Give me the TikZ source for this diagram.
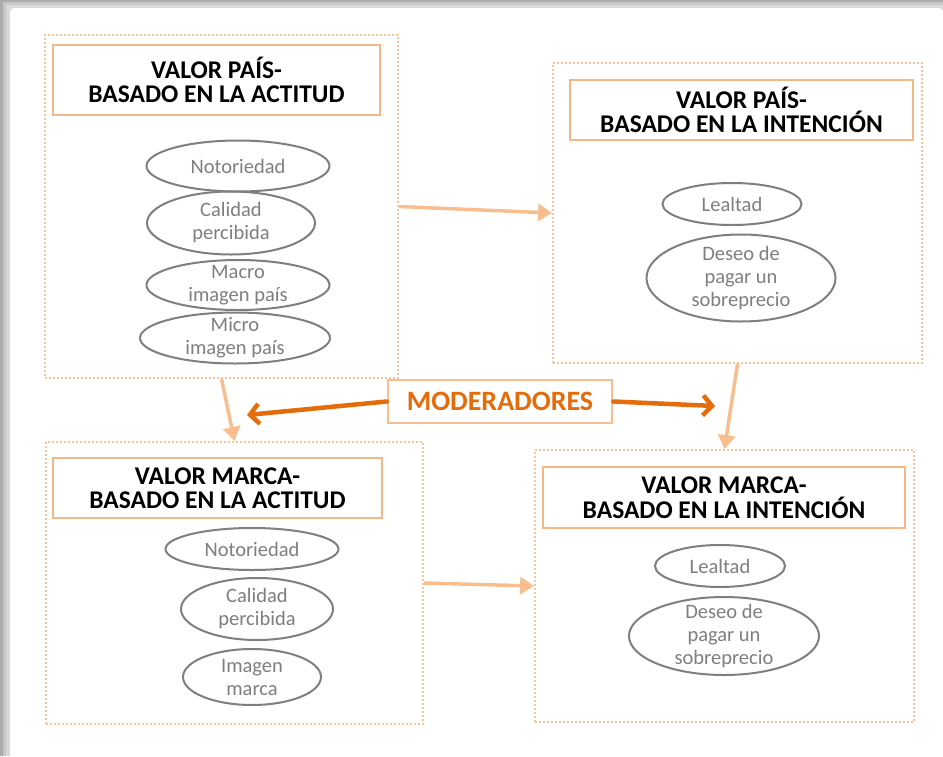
\documentclass[tikz,border=0pt]{standalone}
\usepackage{fontspec}
\setmainfont{Carlito}
\usepackage{tikz}
\usetikzlibrary{shapes.geometric,arrows.meta}
\definecolor{punteado}{HTML}{F7C59C}
\definecolor{borde}{HTML}{F4B887}
\definecolor{naranjaclaro}{HTML}{F9BE8E}
\definecolor{naranjaosc}{HTML}{E46C0A}
\definecolor{grisel}{HTML}{7F7F7F}
\begin{document}
\begin{tikzpicture}[x=1pt,y=-1pt,
      every node/.style={font=\fontsize{20.5}{23}\selectfont},
      grupo/.style={rectangle,draw=punteado,line width=1.8pt,dash pattern=on 1.8pt off 2.2pt,inner sep=0pt},
      titulo/.style={rectangle,draw=borde,line width=2pt,fill=white,align=center,inner sep=0pt,
        font=\fontsize{25.5}{24.5}\selectfont\bfseries},
      elipse/.style={ellipse,draw=grisel,line width=2pt,text=grisel,align=center,inner sep=-12pt},
      flecha/.style={draw=naranjaclaro,line width=3.5pt,-{Triangle[length=14pt,width=17pt]}},
      flechamod/.style={draw=naranjaosc,line width=4.5pt,line cap=round,
        -{Straight Barb[length=9pt,width=20pt]}}]
    \useasboundingbox (0,0) rectangle (943,756);
    \fill[gray!65] (0,0) rectangle (943,756);
    \fill[gray!45] (3,2) rectangle (943,756);
    \fill[gray!30] (6,5) rectangle (943,756);
    \fill[white] (10,756) [rounded corners=4pt] |- (943,8) [sharp corners] -- (943,756) -- cycle;

    \node[grupo,minimum width=353pt,minimum height=343pt] (paisact) at (221.5,206.5) {};
    \node[grupo,minimum width=369pt,minimum height=300pt] (paisint) at (737.5,213) {};
    \node[grupo,minimum width=377pt,minimum height=282pt] (marcaact) at (234.5,583) {};
    \node[grupo,minimum width=379pt,minimum height=272pt] (marcaint) at (724.5,586) {};

    \node[titulo,minimum width=327pt,minimum height=70pt] (tpaisact) at (216.5,80)
        {VALOR PAÍS-\\BASADO EN LA ACTITUD};
    \node[titulo,minimum width=343pt,minimum height=60pt] (tpaisint) at (741.5,110)
        {VALOR PAÍS-\\BASADO EN LA INTENCIÓN};
    \node[titulo,minimum width=329pt,minimum height=60pt] (tmarcaact) at (217.5,488)
        {VALOR MARCA-\\BASADO EN LA ACTITUD};
    \node[titulo,minimum width=362pt,minimum height=61pt] (tmarcaint) at (724,497.5)
        {VALOR MARCA-\\BASADO EN LA INTENCIÓN};

    \node[elipse,minimum width=183pt,minimum height=51pt] (pnot) at (238,166) {Notoriedad};
    \node[elipse,minimum width=168pt,minimum height=63pt] (pcal) at (231,223) {Calidad\\percibida};
    \node[elipse,minimum width=183pt,minimum height=50pt] (pmac) at (238,285) {Macro\\imagen país};
    \node[elipse,minimum width=190pt,minimum height=51pt] (pmic) at (235,338) {Micro\\imagen país};

    \node[elipse,minimum width=139pt,minimum height=42pt] (plea) at (732,204) {Lealtad};
    \node[elipse,minimum width=189pt,minimum height=87pt] (pdes) at (741,278) {Deseo de\\pagar un\\sobreprecio};

    \node[elipse,minimum width=173pt,minimum height=42pt] (mnot) at (252,549) {Notoriedad};
    \node[elipse,minimum width=152pt,minimum height=62pt] (mcal) at (257,609) {Calidad\\percibida};
    \node[elipse,minimum width=138pt,minimum height=56pt] (mima) at (252,677) {Imagen\\marca};

    \node[elipse,minimum width=130pt,minimum height=42pt] (mlea) at (720,566) {Lealtad};
    \node[elipse,minimum width=190pt,minimum height=78pt] (mdes) at (724,636) {Deseo de\\pagar un\\sobreprecio};

    \node[rectangle,draw=naranjaclaro,line width=2.5pt,fill=white,minimum width=224pt,minimum height=43pt,
        inner sep=0pt,text=naranjaosc,font=\fontsize{28}{30}\selectfont\bfseries] (mod) at (500,401.5) {MODERADORES};
    \coordinate (modizq) at (247,415);
    \coordinate (modder) at (715,406);

    \draw[flecha] (paisact.east) -- (paisint.west);
    \draw[flecha] (marcaact.east) -- (marcaint.west);
    \draw[flecha] (paisact.south) -- (marcaact.north);
    \draw[flecha] (paisint.south) -- (marcaint.north);
    \draw[flechamod] (mod.west) -- (modizq);
    \draw[flechamod] (mod.east) -- (modder);
  \end{tikzpicture}
\end{document}
